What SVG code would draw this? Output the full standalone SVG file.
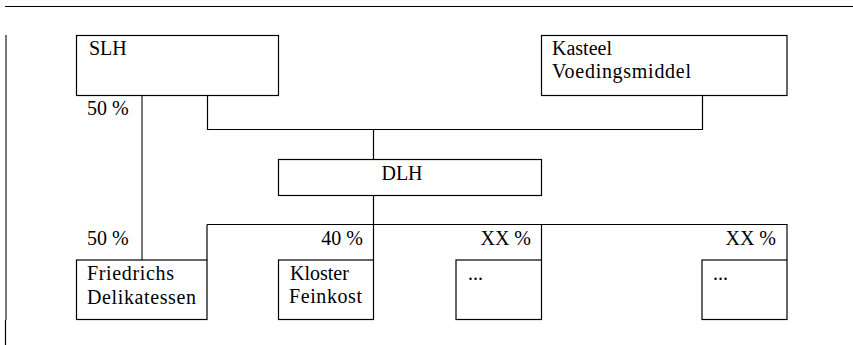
<svg xmlns="http://www.w3.org/2000/svg" width="853" height="345" viewBox="0 0 853 345">
<style>
.box{fill:#fff;stroke:#000;stroke-width:1.2}
.ln{fill:none;stroke:#000;stroke-width:1.2}
.gr{fill:none;stroke:#777;stroke-width:2}
text{font-family:"Liberation Serif","Times New Roman",serif;font-size:20px;fill:#000}
.end{text-anchor:end}
</style>
<rect width="853" height="345" fill="#fff"/>
<g id="frame">
<line class="ln" x1="5" y1="6.5" x2="853" y2="6.5"/>
<line class="gr" x1="6" y1="35" x2="6" y2="320"/>
<line class="ln" x1="5.5" y1="320" x2="5.5" y2="345"/>
</g>
<g id="connectors">
<line class="gr" x1="142" y1="95.5" x2="142" y2="260"/>
<polyline class="ln" points="207.5,95.5 207.5,129.5 702.5,129.5 702.5,95.5"/>
<line class="ln" x1="373.5" y1="129.5" x2="373.5" y2="159.5"/>
<line class="ln" x1="373.5" y1="195.5" x2="373.5" y2="260"/>
<line class="ln" x1="207" y1="224.5" x2="787.5" y2="224.5"/>
<line class="ln" x1="207" y1="224.5" x2="207" y2="260"/>
<line class="ln" x1="541.5" y1="224.5" x2="541.5" y2="260"/>
<line class="ln" x1="787" y1="224.5" x2="787" y2="260"/>
<text x="87" y="115">50 %</text>
<text x="87" y="245">50 %</text>
<text class="end" x="363" y="245">40 %</text>
<text class="end" x="531" y="245">XX %</text>
<text class="end" x="776" y="245">XX %</text>
</g>
<g id="slh">
<rect class="box" x="76.5" y="35.5" width="202" height="60"/>
<text x="89" y="55">SLH</text>
</g>
<g id="kasteel">
<rect class="box" x="541.5" y="35.5" width="245.5" height="60"/>
<text x="552" y="55">Kasteel</text>
<text x="552" y="78" textLength="139">Voedingsmiddel</text>
</g>
<g id="dlh">
<rect class="box" x="278.5" y="159.5" width="263" height="36"/>
<text x="402" y="180" text-anchor="middle">DLH</text>
</g>
<g id="friedrichs">
<rect class="box" x="76.5" y="260" width="130.5" height="59.5"/>
<text x="87" y="280" textLength="87">Friedrichs</text>
<text x="87" y="304" textLength="109">Delikatessen</text>
</g>
<g id="kloster">
<rect class="box" x="278.5" y="260" width="95" height="59.5"/>
<text x="290" y="280">Kloster</text>
<text x="289" y="303" textLength="73">Feinkost</text>
</g>
<g id="other1">
<rect class="box" x="456" y="260" width="85.5" height="59.5"/>
<text x="468" y="280">...</text>
</g>
<g id="other2">
<rect class="box" x="702" y="260" width="85" height="59.5"/>
<text x="713" y="280">...</text>
</g>
</svg>
